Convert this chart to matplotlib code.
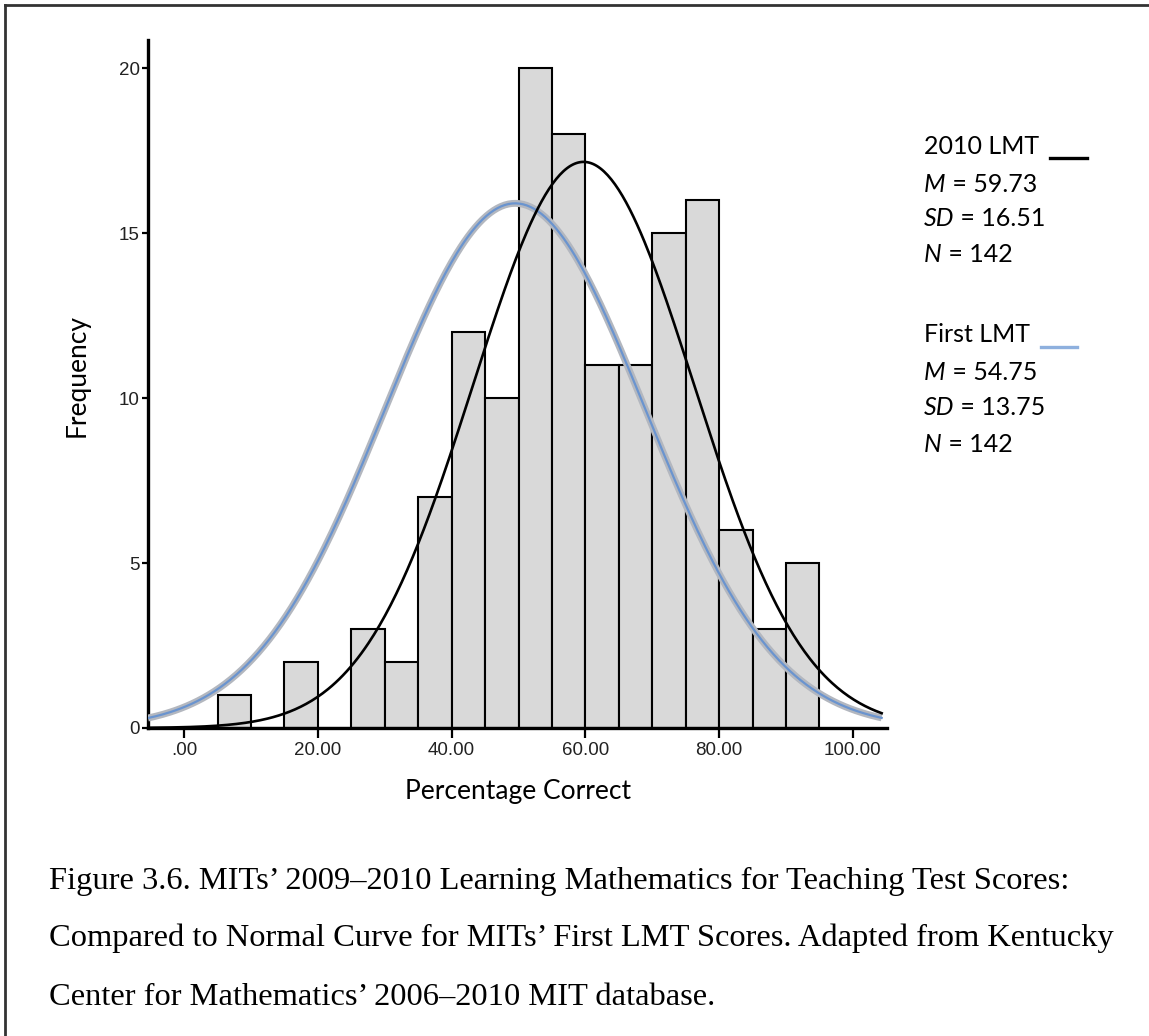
import numpy as np
import matplotlib.pyplot as plt
from matplotlib.lines import Line2D

# histogram of 2010 LMT scores (bins of 5 points)
bin_left = [5, 10, 15, 20, 25, 30, 35, 40, 45, 50, 55, 60, 65, 70, 75, 80, 85, 90]
freq = [1, 0, 2, 0, 3, 2, 7, 12, 10, 20, 18, 11, 11, 15, 16, 6, 3, 5]
bin_w = 5

# normal curve for 2010 LMT (from the stats)
m_2010, sd_2010, n_2010 = 59.73, 16.51, 142
m_first, sd_first, peak_first = 49.5, 19.5, 15.9

xticks = [0, 20, 40, 60, 80, 100]
xticklabels = ['.00', '20.00', '40.00', '60.00', '80.00', '100.00']
yticks = [0, 5, 10, 15, 20]

W, H = 1149, 1036
fig = plt.figure(figsize=(W / 100, H / 100), dpi=100)
ax = fig.add_axes([148 / W, 1 - 728 / H, (887 - 148) / W, (728 - 40) / H])

ax.bar(bin_left, freq, width=bin_w, align='edge', color='#d9d9d9',
       edgecolor='black', linewidth=1.5, zorder=2)

xs = np.linspace(-5.4, 104.3, 400)
blue = peak_first * np.exp(-0.5 * ((xs - m_first) / sd_first) ** 2)
ax.plot(xs, blue, color='#b3b7bf', lw=5, solid_capstyle='butt', zorder=3)
ax.plot(xs, blue, color='#6a94cf', lw=1.6, zorder=4)

black = n_2010 * bin_w / (sd_2010 * np.sqrt(2 * np.pi)) * np.exp(-0.5 * ((xs - m_2010) / sd_2010) ** 2)
ax.plot(xs, black, color='black', lw=1.9, zorder=5)

ax.set_xlim(-5.4, 105.1)
ax.set_ylim(0, 20.85)
ax.set_xticks(xticks)
ax.set_xticklabels(xticklabels, family='Liberation Sans', fontsize=13.5, color='#222222')
ax.set_yticks(yticks)
ax.set_yticklabels([str(v) for v in yticks], family='Liberation Sans', fontsize=13.5, color='#222222')
ax.tick_params(axis='x', length=7, width=1.6, pad=3)
ax.tick_params(axis='y', length=4, width=1.6, pad=2)
for s in ['top', 'right']:
    ax.spines[s].set_visible(False)
for s in ['left', 'bottom']:
    ax.spines[s].set_linewidth(2.4)

fig.text(77 / W, 1 - 376 / H, 'Frequency', family='Lato', fontsize=19,
         rotation=90, ha='center', va='center')
fig.text(518 / W, 1 - 792 / H, 'Percentage Correct', family='Lato', fontsize=19,
         ha='center', va='center')

# stats block: italic symbol followed by upright value
def stat_line(y, ital, rest):
    t = fig.text(924 / W, 1 - y / H, ital, family='Lato', style='italic',
                 fontsize=18, va='baseline')
    ax.annotate(rest, xy=(1, 0), xycoords=t, va='bottom', family='Lato',
                fontsize=18, annotation_clip=False)

fig.text(924 / W, 1 - 154 / H, '2010 LMT', family='Lato', fontsize=18, va='baseline')
stat_line(192, 'M', ' = 59.73')
stat_line(226, 'SD', ' = 16.51')
stat_line(262, 'N', ' = 142')
fig.text(924 / W, 1 - 342 / H, 'First LMT', family='Lato', fontsize=18, va='baseline')
stat_line(380, 'M', ' = 54.75')
stat_line(415, 'SD', ' = 13.75')
stat_line(452, 'N', ' = 142')

fig.add_artist(Line2D([1050 / W, 1087 / W], [1 - 158 / H] * 2, color='black', lw=2.4))
fig.add_artist(Line2D([1041 / W, 1077 / W], [1 - 347 / H] * 2, color='#8eb0de', lw=2.4))

# caption
caption = ['Figure 3.6. MITs\u2019 2009\u20132010 Learning Mathematics for Teaching Test Scores:',
           'Compared to Normal Curve for MITs\u2019 First LMT Scores. Adapted from Kentucky',
           'Center for Mathematics\u2019 2006\u20132010 MIT database.']
for line, yb in zip(caption, [889, 946, 1005]):
    fig.text(49 / W, 1 - yb / H, line, family='Liberation Serif', fontsize=23.4, va='baseline')

# page border (top and left)
fig.add_artist(Line2D([5 / W, 1], [1 - 5 / H] * 2, color='#333333', lw=2))
fig.add_artist(Line2D([5 / W] * 2, [0, 1 - 5 / H], color='#333333', lw=2))

plt.savefig('out.png', dpi=100)
